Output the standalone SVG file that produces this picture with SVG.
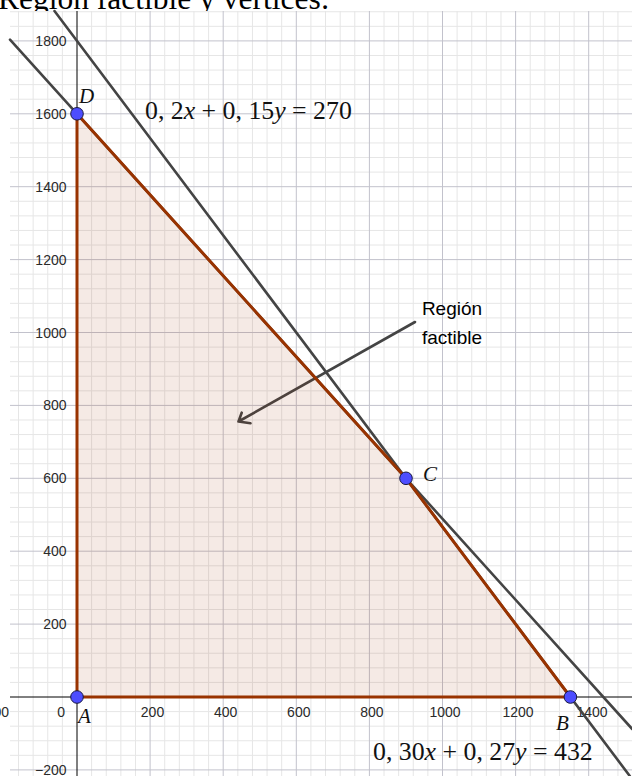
<svg xmlns="http://www.w3.org/2000/svg" width="632" height="776" viewBox="0 0 632 776">
<style>
.minor{stroke:#e6e6e6;stroke-width:1;fill:none}
.major{stroke:#c2c2cc;stroke-width:1;fill:none}
.axis{stroke:#000;stroke-width:1;fill:none}
.tick{font-family:"Liberation Sans",Arial,sans-serif;font-size:14px;fill:#2a2a2a}
.ylab{text-anchor:end}
.xlab{text-anchor:middle}
.gline{stroke:#444;stroke-width:2.6;fill:none;stroke-linecap:round}
.region{fill:rgb(153,51,0);fill-opacity:0.1;stroke:rgb(153,51,0);stroke-width:3;stroke-linejoin:round}
.pt{fill:#4d4dff;stroke:#1a1a40;stroke-width:1}
.plab{font-family:"Liberation Serif","Times New Roman",serif;font-style:italic;font-size:21px;fill:#111}
.eq{font-family:"Liberation Serif","Times New Roman",serif;font-size:25.8px;fill:#111}
.it{font-style:italic}
.note{font-family:"Liberation Sans",Arial,sans-serif;font-size:19px;fill:#000;text-anchor:middle}
</style>
<rect width="632" height="776" fill="#fff"/>
<text x="-2" y="9" font-family="'Liberation Serif','Times New Roman',serif" font-size="31.5" fill="#000">Región factible y vértices:</text>
<g id="grid">
<rect x="10" y="11" width="622" height="765" fill="#fff"/>
<path class="minor" d="M18.52 11V776M33.14 11V776M47.76 11V776M62.38 11V776M91.62 11V776M106.24 11V776M120.86 11V776M135.48 11V776M164.72 11V776M179.34 11V776M193.96 11V776M208.58 11V776M237.82 11V776M252.44 11V776M267.06 11V776M281.68 11V776M310.92 11V776M325.54 11V776M340.16 11V776M354.78 11V776M384.02 11V776M398.64 11V776M413.26 11V776M427.88 11V776M457.12 11V776M471.74 11V776M486.36 11V776M500.98 11V776M530.22 11V776M544.84 11V776M559.46 11V776M574.08 11V776M603.32 11V776M617.94 11V776"/>
<path class="minor" d="M10 755.32H632M10 740.74H632M10 726.16H632M10 711.58H632M10 682.42H632M10 667.84H632M10 653.26H632M10 638.68H632M10 609.52H632M10 594.94H632M10 580.36H632M10 565.78H632M10 536.62H632M10 522.04H632M10 507.46H632M10 492.88H632M10 463.72H632M10 449.14H632M10 434.56H632M10 419.98H632M10 390.82H632M10 376.24H632M10 361.66H632M10 347.08H632M10 317.92H632M10 303.34H632M10 288.76H632M10 274.18H632M10 245.02H632M10 230.44H632M10 215.86H632M10 201.28H632M10 172.12H632M10 157.54H632M10 142.96H632M10 128.38H632M10 99.22H632M10 84.64H632M10 70.06H632M10 55.48H632M10 26.32H632M10 11.74H632"/>
<path class="major" d="M150.1 11V776M223.2 11V776M296.3 11V776M369.4 11V776M442.5 11V776M515.6 11V776M588.7 11V776"/>
<path class="major" d="M10 769.9H632M10 624.1H632M10 551.2H632M10 478.3H632M10 405.4H632M10 332.5H632M10 259.6H632M10 186.7H632M10 113.8H632M10 40.9H632"/>
<path class="axis" d="M10 697H632M77 11V776"/>
</g>
<g id="tick-labels" class="tick">
<text class="ylab" x="66.5" y="46">1800</text>
<text class="ylab" x="66.5" y="119">1600</text>
<text class="ylab" x="66.5" y="192">1400</text>
<text class="ylab" x="66.5" y="264.6">1200</text>
<text class="ylab" x="66.5" y="337.5">1000</text>
<text class="ylab" x="66.5" y="410.4">800</text>
<text class="ylab" x="66.5" y="483.3">600</text>
<text class="ylab" x="66.5" y="556.2">400</text>
<text class="ylab" x="66.5" y="629.1">200</text>
<text class="ylab" x="66.5" y="775">−200</text>
<text class="ylab" x="65" y="717">0</text>
<text class="ylab" x="9" y="717">−200</text>
<text class="xlab" x="152.5" y="717">200</text>
<text class="xlab" x="225.7" y="717">400</text>
<text class="xlab" x="298.8" y="717">600</text>
<text class="xlab" x="371.9" y="717">800</text>
<text class="xlab" x="445" y="717">1000</text>
<text class="xlab" x="518.1" y="717">1200</text>
<text class="xlab" x="592" y="717">1400</text>
</g>
<g id="connectors">
<line id="line1" class="gline" x1="54.5" y1="11" x2="629.8" y2="776"/>
<line id="line2" class="gline" x1="10" y1="39.6" x2="632" y2="728.8"/>
<path id="arrow" class="gline" d="M415 322L238.5 421.5M241.7 412.7L238.5 421.5L250.5 423.3" stroke-linejoin="round"/>
</g>
<g id="region">
<polygon class="region" points="77,697 570.4,697 406,478.3 77,113.8"/>
</g>
<g id="A"><circle class="pt" cx="77" cy="697" r="6.3"/><text class="plab" x="78" y="723">A</text></g>
<g id="B"><circle class="pt" cx="570.4" cy="697" r="6.3"/><text class="plab" x="556" y="730">B</text></g>
<g id="C"><circle class="pt" cx="406" cy="478.3" r="6.3"/><text class="plab" x="423" y="481">C</text></g>
<g id="D"><circle class="pt" cx="77" cy="113.8" r="6.3"/><text class="plab" x="79" y="103">D</text></g>
<g id="eq1"><text class="eq" x="145" y="119">0, 2<tspan class="it">x</tspan> + 0, 15<tspan class="it">y</tspan> = 270</text></g>
<g id="eq2"><text class="eq" x="373" y="760">0, 30<tspan class="it">x</tspan> + 0, 27<tspan class="it">y</tspan> = 432</text></g>
<g id="region-label"><text class="note" x="452" y="315">Región</text><text class="note" x="452" y="344">factible</text></g>
</svg>
